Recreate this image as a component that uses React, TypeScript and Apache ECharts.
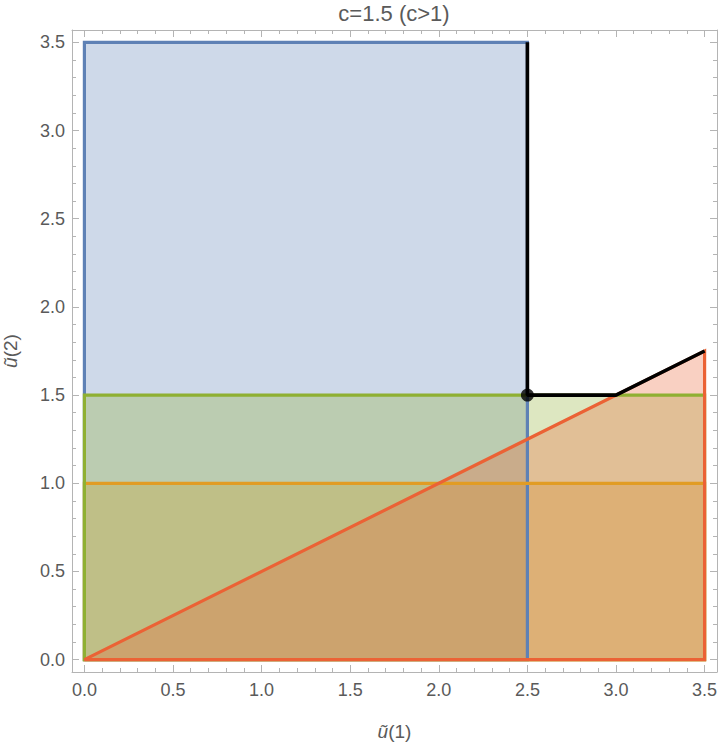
import React, { useEffect, useRef } from "react";
import * as echarts from "echarts";

const titleText = "c=1.5 (c>1)";
const majorTicks = [0, 0.5, 1, 1.5, 2, 2.5, 3, 3.5];
const minorTicks = [
  0.1, 0.2, 0.3, 0.4, 0.6, 0.7, 0.8, 0.9, 1.1, 1.2, 1.3, 1.4, 1.6, 1.7, 1.8, 1.9,
  2.1, 2.2, 2.3, 2.4, 2.6, 2.7, 2.8, 2.9, 3.1, 3.2, 3.3, 3.4,
];
const blueRegion = [[0, 0], [2.5, 0], [2.5, 3.5], [0, 3.5]];
const orangeRegion = [[0, 0], [3.5, 0], [3.5, 1], [0, 1]];
const greenRegion = [[0, 0], [3.5, 0], [3.5, 1.5], [0, 1.5]];
const redRegion = [[0, 0], [3.5, 0], [3.5, 1.75]];
const blackPath = [[2.5, 3.5], [2.5, 1.5], [3, 1.5], [3.5, 1.75]];
const blackPoint = [[2.5, 1.5]];

const AX_MIN = -0.07;
const AX_MAX = 3.57;
const FRAME = "#b4b4b4";
const LABEL = "#5a5a5a";
const FONT = "Liberation Sans";

function fillSeries(verts: number[][], fill: string) {
  return {
    type: "custom",
    xAxisIndex: 0,
    yAxisIndex: 0,
    clip: false,
    data: [0],
    renderItem: (_p: any, api: any) => ({
      type: "polygon",
      shape: { points: verts.map((v) => api.coord(v)) },
      style: { fill, stroke: "none" },
    }),
  };
}

function edgeSeries(verts: number[][], stroke: string) {
  return {
    type: "custom",
    xAxisIndex: 0,
    yAxisIndex: 0,
    clip: false,
    data: [0],
    renderItem: (_p: any, api: any) => ({
      type: "polygon",
      shape: { points: verts.map((v) => api.coord(v)) },
      style: { fill: "none", stroke, lineWidth: 3.2, lineJoin: "miter" },
    }),
  };
}

function makeAxes(isX: boolean) {
  const base = (pos: string, ticks: number[], len: number, labels: boolean, line: boolean, name?: string) => ({
    type: "value",
    min: AX_MIN,
    max: AX_MAX,
    position: pos,
    offset: 0,
    axisLine: { show: line, onZero: false, lineStyle: { color: FRAME, width: 1 } },
    axisTick: { show: true, inside: true, length: len, customValues: ticks, lineStyle: { color: FRAME } },
    axisLabel: labels
      ? {
          show: true,
          customValues: ticks,
          formatter: (v: number) => v.toFixed(1),
          color: LABEL,
          fontSize: 18,
          fontFamily: FONT,
          margin: isX ? 9 : 7,
        }
      : { show: false },
    splitLine: { show: false },
    name: name,
    nameLocation: "middle",
    nameGap: isX ? 50 : 52,
    nameTextStyle: {
      color: LABEL,
      fontSize: 19,
      fontFamily: FONT,
      rich: { i: { fontStyle: "italic", fontSize: 19, color: LABEL, fontFamily: FONT } },
    },
  });
  const p1 = isX ? "bottom" : "left";
  const p2 = isX ? "top" : "right";
  return [
    base(p1, majorTicks, 7, true, true, isX ? "{i|ũ}(1)" : "{i|ũ}(2)"),
    base(p1, minorTicks, 4, false, false),
    base(p2, majorTicks, 7, false, true),
    base(p2, minorTicks, 4, false, false),
  ];
}

export default function App() {
  const ref = useRef<HTMLDivElement>(null);
  useEffect(() => {
    if (!ref.current) return;
    const chart = echarts.init(ref.current, null, { renderer: "svg" });
    chart.setOption({
      animation: false,
      backgroundColor: "#ffffff",
      grid: { left: 72, right: 3, top: 30, bottom: 74, containLabel: false, outerBoundsMode: "none" },
      graphic: [
        {
          type: "text",
          x: 394,
          y: 2,
          style: { text: titleText, fill: LABEL, fontSize: 22, fontFamily: FONT, textAlign: "center" },
        },
      ],
      xAxis: makeAxes(true),
      yAxis: makeAxes(false),
      series: [
        fillSeries(blueRegion, "rgba(94,129,181,0.3)"),
        fillSeries(orangeRegion, "rgba(225,156,36,0.3)"),
        fillSeries(greenRegion, "rgba(143,176,50,0.3)"),
        fillSeries(redRegion, "rgba(235,98,53,0.3)"),
        edgeSeries(blueRegion, "#5E81B5"),
        edgeSeries(orangeRegion, "#E19C24"),
        edgeSeries(greenRegion, "#8FB032"),
        edgeSeries(redRegion, "#EB6235"),
        {
          type: "line",
          xAxisIndex: 0,
          yAxisIndex: 0,
          data: blackPath,
          symbol: "none",
          lineStyle: { color: "#000000", width: 3.6 },
          clip: false,
        },
        {
          type: "scatter",
          xAxisIndex: 0,
          yAxisIndex: 0,
          data: blackPoint,
          symbolSize: 13,
          itemStyle: { color: "#000000" },
        },
      ],
    });
    return () => chart.dispose();
  }, []);
  return <div ref={ref} style={{ width: 720, height: 746, position: "absolute", left: 0, top: 0 }} />;
}
